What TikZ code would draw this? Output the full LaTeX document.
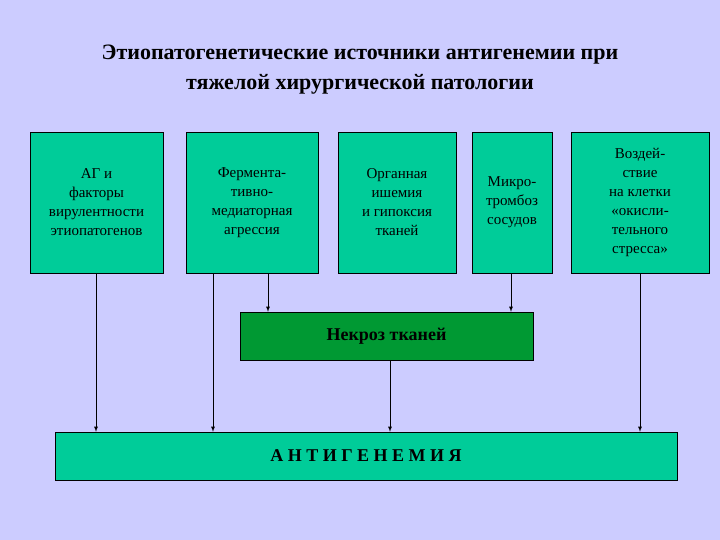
\documentclass[tikz,border=0pt]{standalone}
\usepackage{fontspec}
\setmainfont{Liberation Serif}
\begin{document}
\begin{tikzpicture}[x=1pt,y=-1pt,
  box/.style={draw=black,fill=boxc,align=center,inner sep=0pt,font=\fontsize{15}{19}\selectfont},
  arr/.style={-latex,line width=0.8pt}]
\definecolor{bg}{HTML}{CCCCFF}\definecolor{boxc}{HTML}{00CC99}\definecolor{dark}{HTML}{009933}
\fill[bg] (0,0) rectangle (720,540);
\useasboundingbox (0,0) rectangle (720,540);
\node[font=\bfseries\fontsize{22}{30}\selectfont,align=center] (t) at (360,70) {Этиопатогенетические источники антигенемии при\\ тяжелой хирургической патологии};
\node[box,minimum width=133pt,minimum height=141pt] (b1) at (96.5,202.5) {АГ и\\факторы\\вирулентности\\этиопатогенов};
\node[box,minimum width=132pt,minimum height=141pt] (b2) at (252,202.5) {Фермента-\\тивно-\\медиаторная\\агрессия};
\node[box,minimum width=118pt,minimum height=141pt] (b3) at (397,202.5) {Органная\\ишемия\\и гипоксия\\тканей};
\node[box,minimum width=80pt,minimum height=141pt] (b4) at (512,202.5) {Микро-\\тромбоз\\сосудов};
\node[box,minimum width=138pt,minimum height=141pt] (b5) at (640,202.5) {Воздей-\\ствие\\на клетки\\«окисли-\\тельного\\стресса»};
\node[box,fill=dark,minimum width=293pt,minimum height=48pt,font=\bfseries\fontsize{18}{22}\selectfont] (n) at (386.5,336) {Некроз тканей};
\node[box,minimum width=622pt,minimum height=48pt,font=\bfseries\fontsize{18}{22}\selectfont] (a) at (366,456) {А Н Т И Г Е Н Е М И Я};
\draw[arr] (b1.south -| 96,0) -- (a.north -| 96,0);
\draw[arr] (b2.south -| 213,0) -- (a.north -| 213,0);
\draw[arr] (b2.south -| 268,0) -- (n.north -| 268,0);
\draw[arr] (b4.south -| 511,0) -- (n.north -| 511,0);
\draw[arr] (b5.south -| 640,0) -- (a.north -| 640,0);
\draw[arr] (n.south -| 390,0) -- (a.north -| 390,0);
\end{tikzpicture}
\end{document}
